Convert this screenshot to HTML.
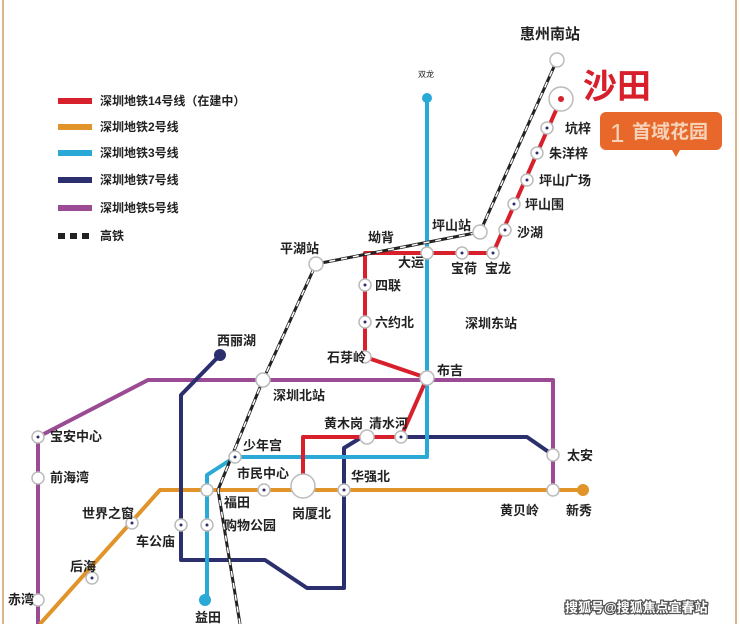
<!DOCTYPE html>
<html><head><meta charset="utf-8"><style>
body{margin:0;width:740px;height:624px;overflow:hidden;background:#fff}
svg text{font-family:"Liberation Sans","Noto Sans CJK SC",sans-serif;font-weight:bold;fill:#222}
</style></head><body>
<svg width="740" height="624" viewBox="0 0 740 624" xmlns="http://www.w3.org/2000/svg">
<rect x="0" y="0" width="740" height="624" fill="#fff"/>
<line x1="3" y1="0" x2="3" y2="624" stroke="#d9b58f" stroke-width="2"/>
<line x1="736" y1="0" x2="736" y2="624" stroke="#d9b58f" stroke-width="2"/>
<!-- legend -->
<g stroke-width="6">
<line x1="58" y1="101" x2="92" y2="101" stroke="#d8202c"/>
<line x1="58" y1="127" x2="92" y2="127" stroke="#e0942a"/>
<line x1="58" y1="153" x2="92" y2="153" stroke="#2aa9d6"/>
<line x1="58" y1="180" x2="92" y2="180" stroke="#2b2f6e"/>
<line x1="58" y1="208" x2="92" y2="208" stroke="#9b4b93"/>
<line x1="58" y1="236" x2="92" y2="236" stroke="#222" stroke-dasharray="7,5"/>
</g>
<g font-size="12">
<text x="100" y="105">深圳地铁14号线（在建中）</text>
<text x="100" y="131">深圳地铁2号线</text>
<text x="100" y="157">深圳地铁3号线</text>
<text x="100" y="184">深圳地铁7号线</text>
<text x="100" y="212">深圳地铁5号线</text>
<text x="100" y="240">高铁</text>
</g>
<g fill="none" stroke-width="4" stroke-linejoin="round">
<!-- purple 5 -->
<polyline points="38,624 38,437 148,380 553,380 553,490" stroke="#9b4b93"/>
<!-- orange 2 -->
<polyline points="40,624 160,490 583,490" stroke="#e0942a"/>
<!-- navy 7 -->
<polyline points="220,355 181,395 181,560 265,560 307,588 344,588 344,448 362,437 527,437 553,455" stroke="#2b2f6e"/>
<!-- blue 3 -->
<polyline points="427,98 427,457 235,457 207,475 207,600" stroke="#2aa9d6"/>
<!-- red 14 -->
<polyline points="561,99 493,253 365,253 365,357 427,378 401,437 303,437 303,484" stroke="#d8202c"/>
<!-- rail -->
<polyline points="557,60 480,232 316,264 263,380 218,490 240,624" stroke="#222" stroke-width="3"/>
<polyline points="557,60 480,232 316,264 263,380 218,490 240,624" stroke="#fff" stroke-width="1.5" stroke-dasharray="6,6"/>
</g>
<!-- terminal dots -->
<circle cx="427" cy="98" r="5" fill="#2aa9d6"/>
<circle cx="205" cy="600" r="6" fill="#2aa9d6"/>
<circle cx="220" cy="355" r="6" fill="#2b2f6e"/>
<circle cx="583" cy="490" r="6" fill="#e0942a"/>
<!-- stations -->
<g fill="#fff" stroke="#bbb" stroke-width="1.5">
<circle cx="561" cy="99" r="12"/>
<circle cx="547" cy="128" r="6"/><circle cx="537" cy="153" r="6"/><circle cx="527" cy="180" r="6"/>
<circle cx="514" cy="204" r="6"/><circle cx="505" cy="230" r="6"/><circle cx="493" cy="253" r="6"/>
<circle cx="462" cy="253" r="6"/><circle cx="427" cy="253" r="6"/><circle cx="365" cy="285" r="6"/>
<circle cx="365" cy="322" r="6"/><circle cx="365" cy="357" r="6"/><circle cx="427" cy="378" r="7"/>
<circle cx="401" cy="437" r="6"/><circle cx="367" cy="437" r="7"/><circle cx="303" cy="486" r="12"/>
<circle cx="344" cy="490" r="6"/><circle cx="264" cy="490" r="6"/><circle cx="207" cy="490" r="6"/>
<circle cx="207" cy="525" r="6"/><circle cx="181" cy="525" r="6"/><circle cx="235" cy="457" r="6"/>
<circle cx="263" cy="380" r="7"/><circle cx="316" cy="264" r="7"/><circle cx="480" cy="232" r="7"/>
<circle cx="557" cy="60" r="7"/><circle cx="553" cy="455" r="6"/><circle cx="553" cy="490" r="6"/>
<circle cx="38" cy="437" r="6"/><circle cx="38" cy="478" r="6"/><circle cx="132" cy="523" r="6"/>
<circle cx="92" cy="578" r="6"/><circle cx="38" cy="600" r="6"/>
</g>
<g fill="#2b2f6e">
<circle cx="561" cy="99" r="3" fill="#d8202c"/>
<circle cx="547" cy="128" r="1.5"/><circle cx="537" cy="153" r="1.5"/><circle cx="527" cy="180" r="1.5"/>
<circle cx="514" cy="204" r="1.5"/><circle cx="505" cy="230" r="1.5"/><circle cx="493" cy="253" r="1.5"/>
<circle cx="462" cy="253" r="1.5"/><circle cx="365" cy="285" r="1.5"/><circle cx="365" cy="322" r="1.5"/>
<circle cx="401" cy="437" r="1.5"/><circle cx="344" cy="490" r="1.5"/><circle cx="264" cy="490" r="1.5"/>
<circle cx="207" cy="525" r="1.5"/><circle cx="181" cy="525" r="1.5"/><circle cx="235" cy="457" r="1.5"/>
<circle cx="38" cy="437" r="1.5"/><circle cx="132" cy="523" r="1.5"/><circle cx="92" cy="578" r="1.5"/>
</g>
<!-- 沙田 badge -->
<text x="583" y="98" font-size="34" style="fill:#d8202c">沙田</text>
<rect x="600" y="112" width="122" height="38" rx="6" fill="#e8672a"/>
<polygon points="672,150 680,150 676,157" fill="#e8672a"/>
<text x="610" y="142" font-size="26" style="fill:#f6d3b8;font-weight:normal">1</text>
<text x="632" y="138" font-size="19" style="fill:#f6d3b8">首域花园</text>
<!-- labels -->
<g font-size="13">
<text x="520" y="39" font-size="15">惠州南站</text>
<text x="418" y="77" font-size="8" style="font-weight:normal">双龙</text>
<text x="565" y="133">坑梓</text><text x="549" y="158">朱洋梓</text><text x="539" y="185">坪山广场</text>
<text x="525" y="209">坪山围</text><text x="517" y="237">沙湖</text><text x="485" y="273">宝龙</text>
<text x="451" y="273">宝荷</text><text x="398" y="267">大运</text><text x="368" y="242">坳背</text>
<text x="432" y="230">坪山站</text><text x="280" y="253">平湖站</text>
<text x="375" y="290">四联</text><text x="375" y="327">六约北</text><text x="327" y="362">石芽岭</text>
<text x="465" y="328">深圳东站</text><text x="437" y="375">布吉</text>
<text x="217" y="345">西丽湖</text><text x="273" y="400">深圳北站</text>
<text x="324" y="428">黄木岗</text><text x="369" y="428">清水河</text>
<text x="243" y="450">少年宫</text><text x="237" y="478">市民中心</text><text x="351" y="481">华强北</text>
<text x="224" y="507">福田</text><text x="292" y="518">岗厦北</text><text x="224" y="530">购物公园</text>
<text x="136" y="546">车公庙</text><text x="82" y="518">世界之窗</text><text x="70" y="571">后海</text>
<text x="50" y="441">宝安中心</text><text x="50" y="482">前海湾</text><text x="8" y="604">赤湾</text>
<text x="195" y="622">益田</text>
<text x="567" y="460">太安</text><text x="500" y="515">黄贝岭</text><text x="566" y="515">新秀</text>
</g>
<text x="565" y="612" font-size="13" style="fill:#fff;stroke:#555;stroke-width:2.5;paint-order:stroke">搜狐号@搜狐焦点宜春站</text>
</svg>
</body></html>
